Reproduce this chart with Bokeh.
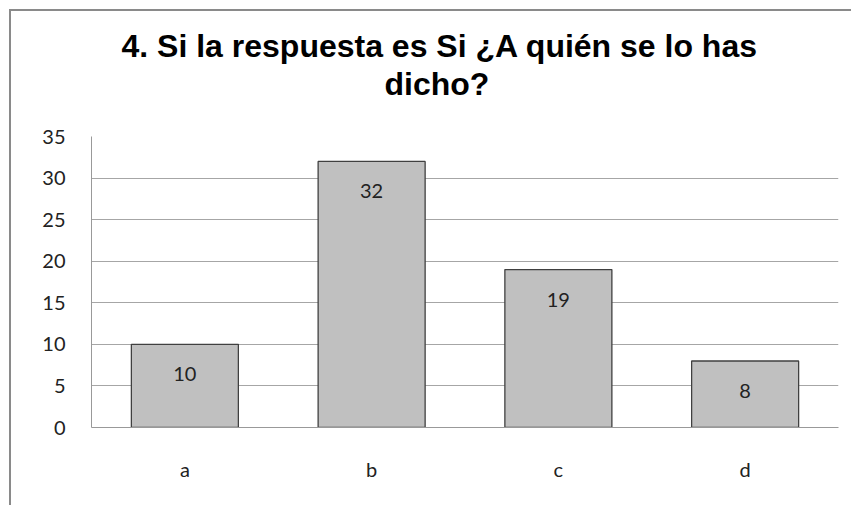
from bokeh.plotting import figure
from bokeh.models import ColumnDataSource, FixedTicker, Range1d, LabelSet, Title
from bokeh.core.properties import value
from bokeh.embed import file_html
from bokeh.resources import INLINE

categories = ["a", "b", "c", "d"]
values = [10, 32, 19, 8]
y_ticks = [0, 5, 10, 15, 20, 25, 30, 35]
title_line1 = "4. Si la respuesta es Si ¿A quién se lo has"
title_line2 = "dicho?"

src = ColumnDataSource(dict(cat=categories, val=values, lab=[str(v) for v in values]))

p = figure(x_range=categories, y_range=Range1d(0, 35), width=842, height=496,
           output_backend="svg", toolbar_location=None, title=None,
           min_border_left=80, min_border_right=15, min_border_top=125, min_border_bottom=80)
p.styles = {"margin-left": "9px", "margin-top": "9px",
            "border-top": "2px solid #8a8a8a", "border-left": "2px solid #8a8a8a"}

p.vbar(x="cat", top="val", width=0.573, source=src, fill_color="#c0c0c0",
       line_color="#404040", line_width=1.3)

labels = LabelSet(x="cat", y="val", text="lab", source=src, y_offset=-30,
                  text_align="center", text_baseline="middle",
                  text_font=value("Lato"), text_font_size="20px", text_color="#222222")
p.add_layout(labels)

spacer = Title(text=" ", text_font_size="1px", standoff=32)
t2 = Title(text=title_line2, align="left", offset=293, standoff=0,
           text_font="Liberation Sans", text_font_size="32px",
           text_font_style="bold", text_color="#000000")
t1 = Title(text=title_line1, align="left", offset=30, standoff=0,
           text_font="Liberation Sans", text_font_size="32px",
           text_font_style="bold", text_color="#000000")
p.add_layout(spacer, "above")
p.add_layout(t2, "above")
p.add_layout(t1, "above")

p.yaxis.ticker = FixedTicker(ticks=y_ticks)
p.yaxis.major_tick_out = 0
p.yaxis.major_tick_in = 0
p.yaxis.minor_tick_out = 0
p.yaxis.minor_tick_in = 0
p.yaxis.axis_line_color = "#999999"
p.yaxis.major_label_standoff = 26
p.yaxis.major_label_text_font = "Lato"
p.yaxis.major_label_text_font_size = "20px"
p.yaxis.major_label_text_color = "#222222"

p.xaxis.major_tick_out = 0
p.xaxis.major_tick_in = 0
p.xaxis.axis_line_color = "#999999"
p.xaxis.major_label_standoff = 29
p.xaxis.major_label_text_font = "Lato"
p.xaxis.major_label_text_font_size = "20px"
p.xaxis.major_label_text_color = "#222222"

p.xgrid.grid_line_color = None
p.ygrid.grid_line_color = "#a6a6a6"
p.ygrid.ticker = FixedTicker(ticks=y_ticks)
p.outline_line_color = None
p.x_range.range_padding = 0.0

open("out.html", "w").write(file_html(p, INLINE))
